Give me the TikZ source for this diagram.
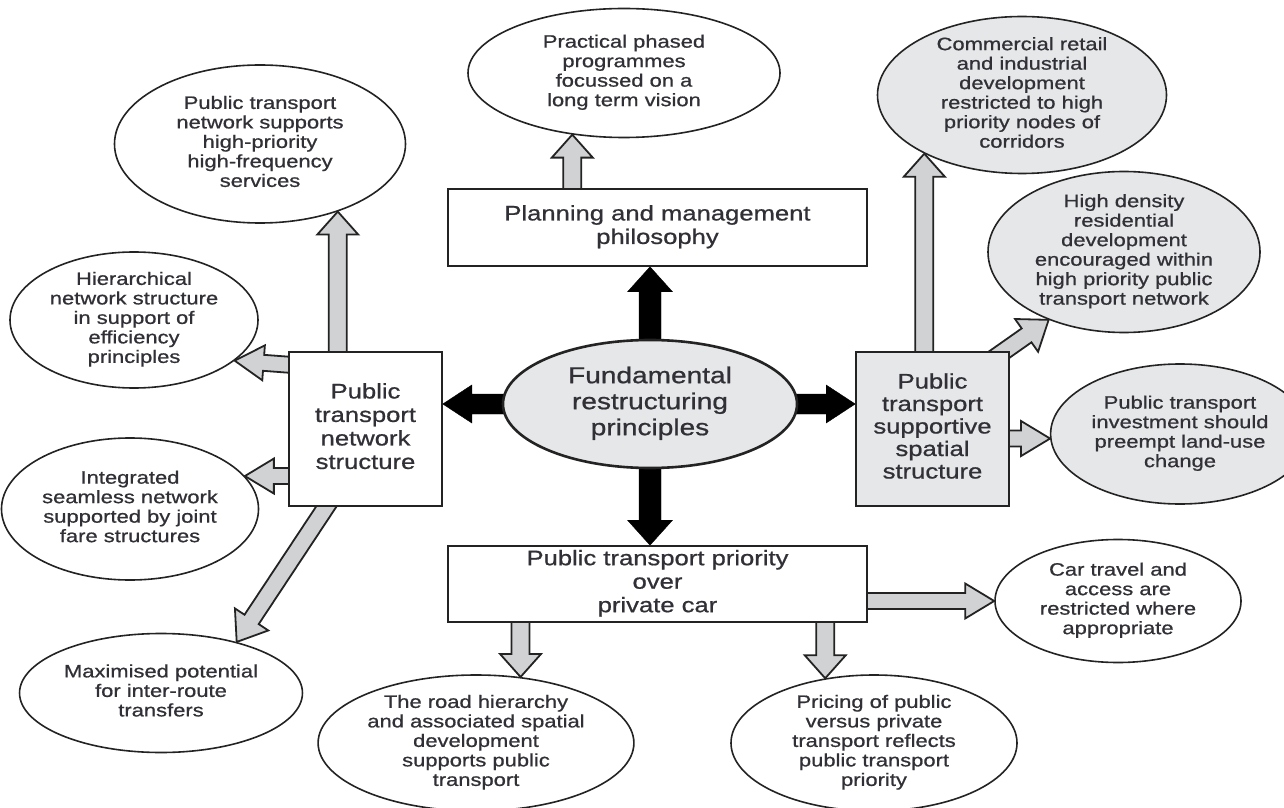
\documentclass[tikz,border=0pt]{standalone}
\usepackage{fontspec}
\setmainfont{Liberation Sans}[FakeStretch=1.22, FakeBold=0.8]
\usepackage{tikz}
\usetikzlibrary{positioning, calc}
\usetikzlibrary{shapes,backgrounds}

\begin{document}
\begin{tikzpicture}
    [x=1pt, y=1pt,
    ob/.style={ellipse, draw=inkgray, line width=1.6pt, fill=white, inner sep=-3pt, text=inktext, font=\fontsize{18}{19.5}\selectfont},
    box/.style={rectangle, draw=inkgray, line width=1.6pt, fill=white, inner sep=0pt, text=inktext, font=\fontsize{21}{23.5}\selectfont},
    block/.style n args={3}{to path={let \p1=(\tikztostart), \p2=(\tikztotarget), \n1={atan2(\y2-\y1,\x2-\x1)} in
        ($(\p1)+({\n1+90}:#1)$) -- ($(\p2)+({\n1+180}:#3)+({\n1+90}:#1)$) -- ($(\p2)+({\n1+180}:#3)+({\n1+90}:#2)$) -- (\p2)
        -- ($(\p2)+({\n1+180}:#3)+({\n1-90}:#2)$) -- ($(\p2)+({\n1+180}:#3)+({\n1-90}:#1)$) -- ($(\p1)+({\n1-90}:#1)$) -- cycle}},
    post/.style={draw=inkgray, fill=arrowgray, line width=1.8pt, line join=miter},
    vpost/.style={post, block={9pt}{20.5pt}{23pt}},
    hpost/.style={post, block={8pt}{17.5pt}{29pt}},
    dpost/.style={post, block={8.5pt}{20pt}{27pt}},
    core/.style={draw=black, fill=black, line width=0.4pt, line join=miter},
    vcore/.style={core, block={11pt}{22.5pt}{25pt}},
    hcore/.style={core, block={10pt}{19pt}{29pt}}]
    \definecolor{inkgray}{RGB}{35,35,35};
    \definecolor{inktext}{RGB}{48,48,54};
    \definecolor{shadegray}{RGB}{230,231,232};
    \definecolor{arrowgray}{RGB}{209,210,212};
    \useasboundingbox (0,0) rectangle (1284,807);
    % centre and the four main themes
    \node [ob, line width=2.6pt, fill=shadegray, minimum width=294pt, minimum height=128pt, font=\fontsize{23}{26}\selectfont] (Core) at (650,403) {\begin{tabular}{c} Fundamental\\restructuring\\principles\end{tabular}};
    \node [box, minimum width=419pt, minimum height=77pt] (Plan) at (657.5,579.5) {\begin{tabular}{c} Planning and management\\philosophy\end{tabular}};
    \node [box, minimum width=419pt, minimum height=76pt] (Priority) at (657.5,223) {\begin{tabular}{c} Public transport priority\\over\\private car\end{tabular}};
    \node [box, minimum width=153pt, minimum height=154pt] (Network) at (365.5,378) {\begin{tabular}{c} Public\\transport\\network\\structure\end{tabular}};
    \node [box, fill=shadegray, minimum width=153pt, minimum height=154pt, font=\fontsize{21}{22.5}\selectfont] (Spatial) at (932.5,378) {\begin{tabular}{c} Public\\transport\\supportive\\spatial\\structure\end{tabular}};
    % outcomes
    \node [ob, minimum width=312pt, minimum height=129pt] (Phased) at (624,734) {\begin{tabular}{c} Practical phased\\programmes\\focussed on a\\long term vision\end{tabular}};
    \node [ob, minimum width=291pt, minimum height=158pt] (Services) at (260,663) {\begin{tabular}{c} Public transport\\network supports\\high-priority\\high-frequency\\services\end{tabular}};
    \node [ob, minimum width=248pt, minimum height=136pt] (Hierarchy) at (134,487) {\begin{tabular}{c} Hierarchical\\network structure\\in support of\\efficiency\\principles\end{tabular}};
    \node [ob, minimum width=235pt, minimum height=142pt] (Seamless) at (130,298) {\begin{tabular}{c} Integrated\\seamless network\\supported by joint\\fare structures\end{tabular}};
    \node [ob, minimum width=255pt, minimum height=119pt] (Transfers) at (161,114) {\begin{tabular}{c} Maximised potential\\for inter-route\\transfers\end{tabular}};
    \node [ob, fill=shadegray, minimum width=289pt, minimum height=154pt] (Commercial) at (1022,712) {\begin{tabular}{c} Commercial retail\\and industrial\\development\\restricted to high\\priority nodes of\\corridors\end{tabular}};
    \node [ob, fill=shadegray, minimum width=272pt, minimum height=161pt] (Density) at (1124,555) {\begin{tabular}{c} High density\\residential\\development\\encouraged within\\high priority public\\transport network\end{tabular}};
    \node [ob, fill=shadegray, minimum width=224pt, minimum height=140pt] (Preempt) at (1180,373) {\begin{tabular}{c} Public transport\\investment should\\preempt land-use\\change\end{tabular}};
    \node [ob, minimum width=246pt, minimum height=123pt] (CarTravel) at (1118,206) {\begin{tabular}{c} Car travel and\\access are\\restricted where\\appropriate\end{tabular}};
    \node [ob, minimum width=290pt, minimum height=136pt] (RoadHier) at (476,64) {\begin{tabular}{c} The road hierarchy\\and associated spatial\\development\\supports public\\transport\end{tabular}};
    \node [ob, minimum width=286pt, minimum height=136pt] (Pricing) at (874,64) {\begin{tabular}{c} Pricing of public\\versus private\\transport reflects\\public transport\\priority\end{tabular}};
    % block arrows behind the nodes
    \begin{scope}[on background layer]
    \draw[vcore] (Core.center) to (Core.center |- Plan.south);
    \draw[vcore] (Core.center) to (Core.center |- Priority.north);
    \draw[hcore] (Core.center) to (Core.center -| Network.east);
    \draw[hcore] (Core.center) to (Core.center -| Spatial.west);
    \draw[vpost] (Services.319 |- Network.center) to (Services.319);
    \draw[hpost] ([shift={(31,62)}]Network.west) to (Hierarchy.338);
    \draw[hpost] (Seamless.16 -| Network.center) to (Seamless.16);
    \draw[dpost] ([shift={(-15,-41)}]Network.center) to (Transfers.34);
    \draw[vpost] (Phased.230 |- Plan.center) to (Phased.230);
    \draw[vpost] (Commercial.211 |- Spatial.center) to (Commercial.211);
    \draw[dpost] ([shift={(42,57)}]Spatial.center) to (Density.222);
    \draw[hpost] (Preempt.182 -| Spatial.center) to (Preempt.182);
    \draw[hpost] (CarTravel.west -| Priority.center) to (CarTravel.west);
    \draw[vpost] (RoadHier.56 |- Priority.center) to (RoadHier.56);
    \draw[vpost] (Pricing.127 |- Priority.center) to (Pricing.127);
    \end{scope}
\end{tikzpicture}
\end{document}
